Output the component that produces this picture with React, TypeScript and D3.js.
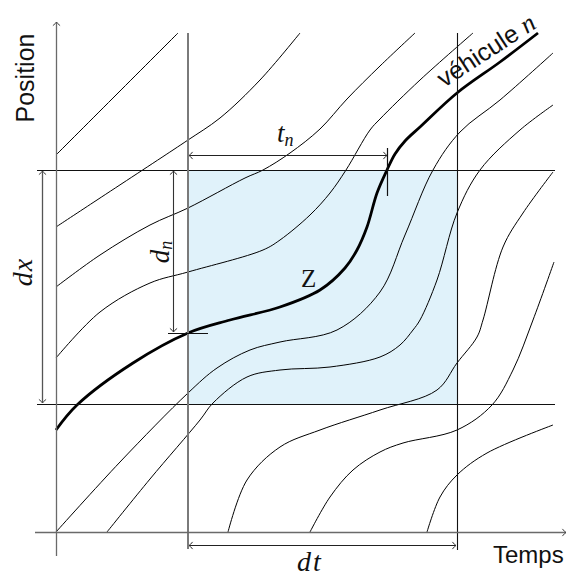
import React from "react";
import * as d3 from "d3";

// Trajectories: [time, position] pairs (time 0..100, position 0..100)
const traj1: [number, number][] = [[0, 75.4], [12.2, 87.6], [24.4, 99.8]];
const traj2: [number, number][] = [[0, 61], [8.2, 66.4], [23.4, 76.4], [26.4, 78.4], [32.8, 82.8], [40.8, 90.4], [48.8, 99.8]];
const traj3: [number, number][] = [[0, 49], [8.8, 55.4], [18.8, 61.4], [26.4, 64.8], [37.8, 70.8], [41.4, 72.4], [46.8, 75.8], [52.8, 80.6], [58.2, 86.6], [64.8, 93.2], [71.8, 99.8]];
const traj4: [number, number][] = [[0, 34.8], [8.8, 44], [18.8, 49.8], [26.4, 52], [41.4, 56.4], [44.8, 58.4], [50.8, 63.4], [54.8, 67.8], [58, 72.4], [62.8, 80.4], [64.8, 82.6], [72.8, 90.4], [83.4, 99.8]];
const vehicleN: [number, number][] = [[0, 20.4], [4.2, 25.4], [15.4, 33.8], [26.4, 39.8], [34.8, 42.4], [44.8, 45], [52.8, 48.4], [57.8, 52.8], [60.2, 56.4], [62.2, 61], [64.2, 67.8], [66.2, 72.4], [67.8, 75.6], [69.8, 78.2], [72.8, 81], [80.2, 87.8], [88.8, 94], [96.4, 99.8]];
const traj6: [number, number][] = [[0, 0], [12.8, 14], [26.4, 27.8], [32.2, 32.8], [38.8, 36.4], [44.8, 38], [56.2, 40.4], [64.8, 48], [69.8, 59.4], [75.4, 72.4], [80.8, 80], [88.8, 86.4], [99.4, 95.8]];
const traj7: [number, number][] = [[10.2, 0], [18.8, 10.6], [28.8, 22.4], [31.4, 25.8], [38.2, 31], [44.8, 32.4], [54.8, 33], [64.8, 35], [68.8, 37.4], [71.4, 40.4], [72.8, 42.4], [76.2, 50.4], [80.2, 63.8], [84.8, 72.4], [92.8, 80.4], [99.4, 85.4]];
const traj8: [number, number][] = [[34.4, 0], [38.2, 10.4], [44.8, 17], [52.8, 20.4], [64.8, 24.4], [76.2, 28.4], [80.2, 33.8], [84.2, 39], [85.4, 42.4], [89.4, 57], [93.4, 63.8], [99.4, 72]];
const traj9: [number, number][] = [[50.8, 0], [54.8, 7], [59.4, 12.4], [64.8, 16], [69.4, 17.8], [80.2, 20.4], [87.2, 25.4], [91.4, 32.4], [95.4, 42.4], [99.6, 54]];
const traj10: [number, number][] = [[74.2, 0], [76.8, 7], [80.2, 11.4], [86.2, 15.8], [99.4, 21.4]];

const thinTrajectories = [traj1, traj2, traj3, traj4, traj6, traj7, traj8, traj9, traj10];

// Zone Z bounds
const zoneT = [26.4, 80.2];
const zoneX = [25.6, 72.4];
const tnEnd = 66.2; // time where vehicle n leaves the zone
const dnEnd = 39.8; // position where vehicle n enters the zone

const axisLabels = { x: "Temps", y: "Position" };
const vehicleLabel = "véhicule ";

const W = 567;
const H = 576;

const xS = d3.scaleLinear().domain([0, 100]).range([56, 556]);
const yS = d3.scaleLinear().domain([0, 100]).range([532, 32]);

const line = d3
  .line<[number, number]>()
  .x((d) => xS(d[0]))
  .y((d) => yS(d[1]))
  .curve(d3.curveCatmullRom.alpha(0.5));

function head(x: number, y: number, dir: "up" | "down" | "left" | "right", s = 3.6) {
  let p = "";
  if (dir === "right") p = `M${x - s},${y - s} Q${x - s * 0.4},${y - s * 0.2} ${x},${y} Q${x - s * 0.4},${y + s * 0.2} ${x - s},${y + s}`;
  if (dir === "left") p = `M${x + s},${y - s} Q${x + s * 0.4},${y - s * 0.2} ${x},${y} Q${x + s * 0.4},${y + s * 0.2} ${x + s},${y + s}`;
  if (dir === "up") p = `M${x - s},${y + s} Q${x - s * 0.2},${y + s * 0.4} ${x},${y} Q${x + s * 0.2},${y + s * 0.4} ${x + s},${y + s}`;
  if (dir === "down") p = `M${x - s},${y - s} Q${x - s * 0.2},${y - s * 0.4} ${x},${y} Q${x + s * 0.2},${y - s * 0.4} ${x + s},${y - s}`;
  return p;
}

const serif = "'Liberation Serif', 'DejaVu Serif', serif";
const sans = "'Liberation Sans', Arial, sans-serif";

export default function App() {
  const t0 = xS(zoneT[0]);
  const t1 = xS(zoneT[1]);
  const yTop = yS(zoneX[1]);
  const yBot = yS(zoneX[0]);
  const tnX = xS(tnEnd);
  const dnY = yS(dnEnd);
  const axX = xS(0);
  const axY = yS(0);

  const dxX = 42.5;
  const dnX = 173.5;
  const tnY = 155.5;
  const dtY = 545.5;
  const c = (v: number) => Math.round(v) + 0.5;

  return (
    <svg
      width={W}
      height={H}
      style={{ position: "absolute", left: 0, top: 0, background: "#fff" }}
    >
      {/* zone */}
      <rect x={t0} y={yTop} width={t1 - t0} height={yBot - yTop} fill="#e0f2fa" />

      {/* trajectories */}
      {thinTrajectories.map((tr, i) => (
        <path key={i} d={line(tr) || ""} fill="none" stroke="#000" strokeWidth={1} />
      ))}
      <path d={line(vehicleN) || ""} fill="none" stroke="#000" strokeWidth={2.8} />

      {/* zone boundaries */}
      <line x1={37} x2={555} y1={c(yTop)} y2={c(yTop)} stroke="#111" strokeWidth={1.1} />
      <line x1={37} x2={555} y1={c(yBot)} y2={c(yBot)} stroke="#111" strokeWidth={1.1} />
      <line x1={t0} x2={t0} y1={33} y2={549} stroke="#7a7a7a" strokeWidth={2} />
      <line x1={c(t1)} x2={c(t1)} y1={33} y2={550} stroke="#111" strokeWidth={1.1} />

      {/* axes */}
      <line x1={c(axX)} x2={c(axX)} y1={22} y2={556} stroke="#6a6a6a" strokeWidth={1.3} />
      <path d={head(c(axX), 22, "up")} fill="none" stroke="#444" strokeWidth={1} />
      <line x1={35} x2={566} y1={c(axY)} y2={c(axY)} stroke="#6a6a6a" strokeWidth={1.3} />
      <path d={head(566, c(axY), "right")} fill="none" stroke="#444" strokeWidth={1} />

      {/* dx arrow */}
      <line x1={dxX} x2={dxX} y1={yTop + 1} y2={yBot - 1} stroke="#555" strokeWidth={1.3} />
      <path d={head(dxX, yTop + 1, "up")} fill="none" stroke="#444" strokeWidth={1} />
      <path d={head(dxX, yBot - 1, "down")} fill="none" stroke="#444" strokeWidth={1} />

      {/* dn arrow */}
      <line x1={dnX} x2={dnX} y1={yTop + 1} y2={dnY - 1} stroke="#333" strokeWidth={1.1} />
      <path d={head(dnX, yTop + 1, "up")} fill="none" stroke="#333" strokeWidth={1} />
      <path d={head(dnX, dnY - 1, "down")} fill="none" stroke="#333" strokeWidth={1} />
      <line x1={168} x2={208} y1={c(dnY)} y2={c(dnY)} stroke="#111" strokeWidth={1.2} />

      {/* tn arrow */}
      <line x1={t0 + 1} x2={tnX} y1={tnY} y2={tnY} stroke="#222" strokeWidth={1.1} />
      <path d={head(t0 + 1, tnY, "left")} fill="none" stroke="#333" strokeWidth={1} />
      <path d={head(tnX, tnY, "right")} fill="none" stroke="#333" strokeWidth={1} />
      <line x1={c(tnX)} x2={c(tnX)} y1={148} y2={196} stroke="#111" strokeWidth={1.2} />

      {/* dt arrow */}
      <line x1={t0 + 1} x2={t1 - 1} y1={dtY} y2={dtY} stroke="#222" strokeWidth={1.1} />
      <path d={head(t0 + 1, dtY, "left")} fill="none" stroke="#333" strokeWidth={1} />
      <path d={head(t1 - 1, dtY, "right")} fill="none" stroke="#333" strokeWidth={1} />

      {/* labels */}
      <text transform="translate(34,78) rotate(-90)" textAnchor="middle" fontFamily={sans} fontSize={25} fill="#111">
        {axisLabels.y}
      </text>
      <text x={493} y={563} fontFamily={sans} fontSize={24} fill="#111">
        {axisLabels.x}
      </text>
      <text transform="translate(444,88) rotate(-33)" fontFamily={sans} fontSize={25} fill="#111">
        {vehicleLabel}
        <tspan fontFamily={serif} fontStyle="italic" fontSize={26}>n</tspan>
      </text>
      <text x={277} y={142} fontFamily={serif} fontStyle="italic" fontSize={27} fill="#111">
        t<tspan fontSize={18} dy={4}>n</tspan>
      </text>
      <text x={310} y={571} textAnchor="middle" fontFamily={serif} fontStyle="italic" fontSize={28} letterSpacing={2} fill="#111">
        dt
      </text>
      <text transform="translate(32,272) rotate(-90)" textAnchor="middle" fontFamily={serif} fontStyle="italic" fontSize={28} letterSpacing={1} fill="#111">
        dx
      </text>
      <text transform="translate(169,252) rotate(-90)" textAnchor="middle" fontFamily={serif} fontStyle="italic" fontSize={27} fill="#111">
        d<tspan fontSize={18} dy={3}>n</tspan>
      </text>
      <text x={301} y={287} fontFamily={serif} fontSize={25} fill="#111">
        Z
      </text>
    </svg>
  );
}
